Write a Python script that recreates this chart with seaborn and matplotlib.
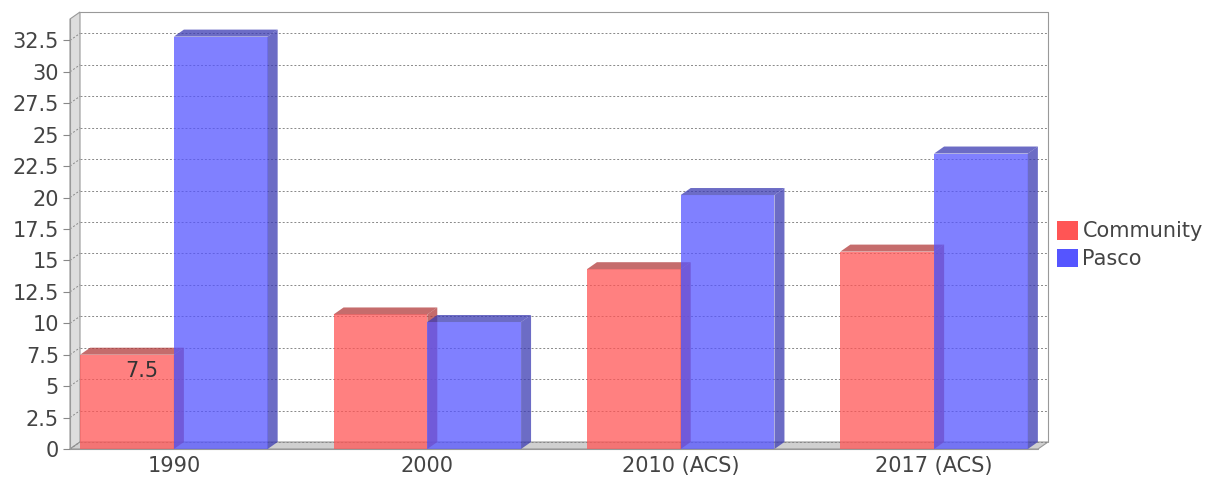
import numpy as np
import pandas as pd
import matplotlib
matplotlib.use("Agg")
import matplotlib.pyplot as plt
from matplotlib.patches import Polygon
import seaborn as sns

# data
years = ["1990", "2000", "2010 (ACS)", "2017 (ACS)"]
community = [7.5, 10.7, 14.3, 15.7]
pasco = [32.8, 10.1, 20.2, 23.5]
series = ["Community", "Pasco"]
colors = ["#ff5555", "#5555ff"]
yticks = np.arange(0, 33, 2.5)

df = pd.DataFrame({
    "year": years * 2,
    "value": community + pasco,
    "series": [series[0]] * len(years) + [series[1]] * len(years),
})

sns.set_style("white")
plt.rcParams["font.family"] = ["DejaVu Sans"]
txt = "#444444"

fig = plt.figure(figsize=(12.21, 4.8), dpi=100)
ax = fig.add_axes([70 / 1221, 31 / 480, 968 / 1221, 430 / 480])

sns.barplot(data=df, x="year", y="value", hue="series", palette=colors, saturation=1,
            width=0.74, alpha=0.75, linewidth=0, ax=ax, legend=False, zorder=3)

xlo, xhi, ytop = -0.41, 3.41, 34.2
ax.set_xlim(xlo, xhi)
ax.set_ylim(0, ytop)

# 3d depth in pixels, converted to data units
dx_px, dy_px = 10, 7
bbox = ax.get_window_extent()
dxd = dx_px * (xhi - xlo) / bbox.width
dyd = dy_px * ytop / bbox.height

# back wall grid lines + diagonal marks on the left wall
for v in yticks:
    ax.plot([xlo + dxd, xhi + dxd], [v + dyd, v + dyd], ls=(0, (2, 2)),
            lw=0.7, color="#888888", clip_on=False, zorder=1)
    ax.plot([xlo, xlo + dxd], [v, v + dyd], ls=(0, (2, 2)),
            lw=0.7, color="#888888", clip_on=False, zorder=1)

# left wall and floor
ax.add_patch(Polygon([(xlo, 0), (xlo + dxd, dyd), (xlo + dxd, ytop + dyd), (xlo, ytop)],
                     closed=True, fc="#dddddd", ec="#999999", lw=0.8, clip_on=False, zorder=0))
ax.add_patch(Polygon([(xlo, 0), (xhi, 0), (xhi + dxd, dyd), (xlo + dxd, dyd)],
                     closed=True, fc="#d0d0d0", ec="#999999", lw=0.8, clip_on=False, zorder=0))
ax.plot([xlo + dxd, xhi + dxd, xhi + dxd], [ytop + dyd, ytop + dyd, dyd],
        color="#999999", lw=0.8, clip_on=False, zorder=1)

# top and side faces of each bar, drawn series by series
dark = ["#b23b3b", "#3b3bb2"]
for i, p in enumerate(ax.patches[:2 * len(years)]):
    k = i // len(years)
    z = 3 + 0.2 * k
    p.set_zorder(z)
    x, w, h = p.get_x(), p.get_width(), p.get_height()
    top = Polygon([(x, h), (x + w, h), (x + w + dxd, h + dyd), (x + dxd, h + dyd)],
                  closed=True, fc=dark[k], alpha=0.75, lw=0, clip_on=False, zorder=z + 0.1)
    side = Polygon([(x + w, 0), (x + w + dxd, dyd), (x + w + dxd, h + dyd), (x + w, h)],
                   closed=True, fc=dark[k], alpha=0.75, lw=0, clip_on=False, zorder=z + 0.1)
    ax.add_patch(top)
    ax.add_patch(side)

# value label on first bar
p0 = ax.patches[0]
ax.annotate(f"{community[0]:g}", (p0.get_x() + p0.get_width() / 2, community[0]),
            xytext=(11, -12), textcoords="offset points", ha="center", va="center",
            fontsize=15, color="#333333", zorder=10)

for s in ax.spines.values():
    s.set_visible(False)
ax.plot([xlo, xhi], [0, 0], color="#999999", lw=0.8, clip_on=False, zorder=4)
ax.plot([xlo, xlo], [0, ytop], color="#999999", lw=0.8, clip_on=False, zorder=4)

ax.set_yticks(yticks)
ax.set_yticklabels([f"{v:g}" for v in yticks])
ax.tick_params(axis="y", length=5, color="#888888", labelsize=15, labelcolor=txt, pad=3, left=True)
ax.tick_params(axis="x", length=0, labelsize=15, labelcolor=txt, pad=5)
ax.set_xlabel("")
ax.set_ylabel("")
ax.grid(False)

handles = [plt.Rectangle((0, 0), 1, 1, fc=c, ec="none") for c in colors]
fig.legend(handles, series, loc="center left", bbox_to_anchor=(1047 / 1221, 1 - 245 / 480),
           frameon=False, fontsize=15, labelcolor=txt, handlelength=1.0, handleheight=1.0,
           handletextpad=0.2, labelspacing=0.35, borderpad=0)

fig.savefig("out.png", dpi=100)
